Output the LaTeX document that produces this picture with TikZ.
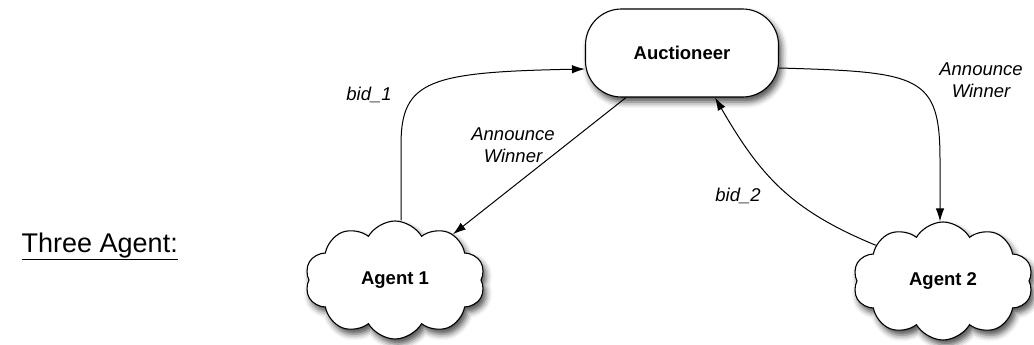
\documentclass[tikz,border=0pt]{standalone}
\usepackage{fontspec}
\setmainfont{Liberation Sans}
\usetikzlibrary{shapes.symbols,shapes.misc,arrows.meta,shadows.blur}
\begin{document}
\begin{tikzpicture}[x=1pt,y=-1pt,
  boxshadow/.style={blur shadow={shadow xshift=3pt,shadow yshift=-5pt,shadow blur radius=6pt,shadow opacity=70}},
  actor/.style={draw,line width=1.1pt,fill=white,rounded corners=36pt,
    minimum width=193pt,minimum height=88pt,font=\bfseries\fontsize{18.5}{21}\selectfont,boxshadow},
  agent/.style={cloud,cloud puffs=10,cloud puff arc=120,cloud ignores aspect,
    draw,line width=1.1pt,fill=white,minimum width=180pt,minimum height=118pt,
    font=\bfseries\fontsize{18.5}{21}\selectfont,boxshadow},
  msg/.style={-{Latex[length=13pt,width=8.5pt]},line width=1pt},
  lbl/.style={font=\itshape\fontsize{18.5}{21.5}\selectfont,align=center,inner sep=0pt}]
\useasboundingbox (0,0) rectangle (1034,345);

% participants
\node[actor] (auc) at (682,53) {Auctioneer};
\node[agent] (a1) at (395,280) {Agent 1};
\node[agent] (a2) at (943,281) {Agent 2};

% heading with its rule
\node[inner sep=0pt,anchor=base east,font=\fontsize{27}{32}\selectfont] (title) at (178,252) {Three Agent:};
\draw[line width=0.9pt] ([yshift=-2pt]title.south west) -- ([yshift=-2pt]title.south east);

% bids
\draw[msg] (a1.north) ++(6,0) -- ++(0,-76) .. controls (401,80) and (430,72) .. ([yshift=-16pt]auc.west);
\draw[msg] (a2.152) .. controls (790,210) and (760,175) .. ([xshift=33pt]auc.south);

% winner announcements
\draw[msg] ([xshift=-56pt]auc.south) -- (a1);
\draw[msg] ([yshift=-15pt]auc.east) .. controls (920,72) and (940,75) .. (940,160) -- ([xshift=-3pt]a2.north);

% labels
\node[lbl] (l1) at (369,95) {bid\_1};
\node[lbl] (l2) at (513,145) {Announce\\Winner};
\node[lbl] (l3) at (981,80) {Announce\\Winner};
\node[lbl] (l4) at (738,196) {bid\_2};
\end{tikzpicture}
\end{document}
